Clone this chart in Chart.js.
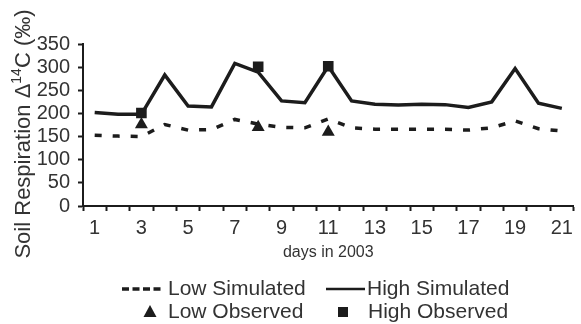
<!DOCTYPE html>
<html>
<head>
<meta charset="utf-8">
<script src="https://cdn.jsdelivr.net/npm/chart.js@4"></script>
<style>
  html, body { margin: 0; padding: 0; background: #fff; }
  #wrap { width: 581px; height: 324px; }
</style>
</head>
<body>
<div id="wrap"><canvas id="chart" width="581" height="324"></canvas></div>
<script>
const days = Array.from({ length: 21 }, (_, i) => String(i + 1));

const lowSimulated = [153, 151, 150, 176, 164, 165, 187, 177, 170, 169, 188,
  169, 166, 166, 166, 166, 164, 169, 184, 167, 162];
const highSimulated = [202, 198, 198, 283, 216, 214, 308, 289, 227, 223, 302,
  227, 220, 218, 220, 219, 213, 225, 297, 222, 211];
const lowObserved = [null, null, 176, null, null, null, null, 170, null, null, 160,
  null, null, null, null, null, null, null, null, null, null];
const highObserved = [null, null, 201, null, null, null, null, 301, null, null, 302,
  null, null, null, null, null, null, null, null, null, null];

const yTicks = [0, 50, 100, 150, 200, 250, 300, 350];

const ink = "#1c1c1c";
const textColor = "#333333";
const font = "Liberation Sans, Arial, sans-serif";

// Rotated y title with a superscript, drawn by hand
const yTitlePlugin = {
  id: "yTitle",
  afterDraw(chart) {
    const { ctx } = chart;
    const parts = [
      { text: "Soil Respiration \u0394", size: 22, rise: 0 },
      { text: "14", size: 14, rise: 9 },
      { text: "C (\u2030)", size: 22, rise: 0 },
    ];
    ctx.save();
    let total = 0;
    parts.forEach((p) => {
      ctx.font = `${p.size}px ${font}`;
      p.w = ctx.measureText(p.text).width;
      total += p.w;
    });
    ctx.translate(30, 134);
    ctx.rotate(-Math.PI / 2);
    ctx.fillStyle = textColor;
    ctx.textBaseline = "alphabetic";
    let x = -total / 2;
    parts.forEach((p) => {
      ctx.font = `${p.size}px ${font}`;
      ctx.fillText(p.text, x, -p.rise);
      x += p.w;
    });
    ctx.restore();
  },
};

// Two-column legend under the axis title
const legendPlugin = {
  id: "gridLegend",
  afterDraw(chart) {
    const { ctx } = chart;
    const row1 = 289;
    const row2 = 312;
    ctx.save();
    ctx.strokeStyle = ink;
    ctx.fillStyle = ink;

    ctx.lineWidth = 3.5;
    ctx.setLineDash([7, 3.5]);
    ctx.beginPath();
    ctx.moveTo(122, row1);
    ctx.lineTo(163, row1);
    ctx.stroke();

    ctx.setLineDash([]);
    ctx.lineWidth = 2.5;
    ctx.beginPath();
    ctx.moveTo(326, row1);
    ctx.lineTo(365, row1);
    ctx.stroke();

    ctx.beginPath();
    ctx.moveTo(150, row2 - 7);
    ctx.lineTo(156.5, row2 + 5);
    ctx.lineTo(143.5, row2 + 5);
    ctx.closePath();
    ctx.fill();

    ctx.fillRect(338, row2 - 5, 10, 10);

    ctx.fillStyle = textColor;
    ctx.font = `21px ${font}`;
    ctx.textBaseline = "middle";
    ctx.fillText("Low Simulated", 168, row1);
    ctx.fillText("High Simulated", 367, row1);
    ctx.fillText("Low Observed", 168, row2);
    ctx.fillText("High Observed", 368, row2);
    ctx.restore();
  },
};

new Chart(document.getElementById("chart"), {
  type: "line",
  data: {
    labels: days,
    datasets: [
      {
        label: "Low Simulated",
        data: lowSimulated,
        borderColor: ink,
        borderWidth: 3.5,
        borderDash: [7, 11],
        pointRadius: 0,
        tension: 0,
        order: 3,
      },
      {
        label: "High Simulated",
        data: highSimulated,
        borderColor: ink,
        borderWidth: 3.5,
        pointRadius: 0,
        tension: 0,
        order: 2,
      },
      {
        label: "Low Observed",
        data: lowObserved,
        showLine: false,
        pointStyle: "triangle",
        pointRadius: 7.5,
        backgroundColor: ink,
        borderColor: ink,
        borderWidth: 0,
        order: 1,
      },
      {
        label: "High Observed",
        data: highObserved,
        showLine: false,
        pointStyle: "rect",
        pointRadius: 7.5,
        backgroundColor: ink,
        borderColor: ink,
        borderWidth: 0,
        order: 0,
      },
    ],
  },
  options: {
    responsive: false,
    animation: false,
    spanGaps: false,
    layout: { padding: { top: 44, right: 4, bottom: 62, left: 0 } },
    plugins: { legend: { display: false }, tooltip: { enabled: false } },
    scales: {
      x: {
        type: "category",
        offset: true,
        grid: {
          offset: true,
          drawOnChartArea: false,
          tickLength: 5,
          tickWidth: 2,
          tickColor: ink,
        },
        border: { color: ink, width: 2 },
        ticks: {
          autoSkip: false,
          maxRotation: 0,
          padding: 5,
          color: textColor,
          font: { family: font, size: 20 },
          callback: (value, index) => (index % 2 === 0 ? days[index] : ""),
        },
        title: {
          display: true,
          text: "days in 2003",
          color: textColor,
          font: { family: font, size: 16 },
          padding: 0,
        },
        afterFit: (scale) => {
          scale.height = 56;
        },
      },
      y: {
        min: yTicks[0],
        max: yTicks[yTicks.length - 1],
        grid: {
          drawOnChartArea: false,
          tickLength: 5,
          tickWidth: 2,
          tickColor: ink,
        },
        border: { color: ink, width: 2 },
        ticks: {
          stepSize: 50,
          autoSkip: false,
          padding: 8,
          color: textColor,
          font: { family: font, size: 20 },
        },
        afterFit: (scale) => {
          scale.width = 83;
        },
      },
    },
  },
  plugins: [yTitlePlugin, legendPlugin],
});
</script>
</body>
</html>
